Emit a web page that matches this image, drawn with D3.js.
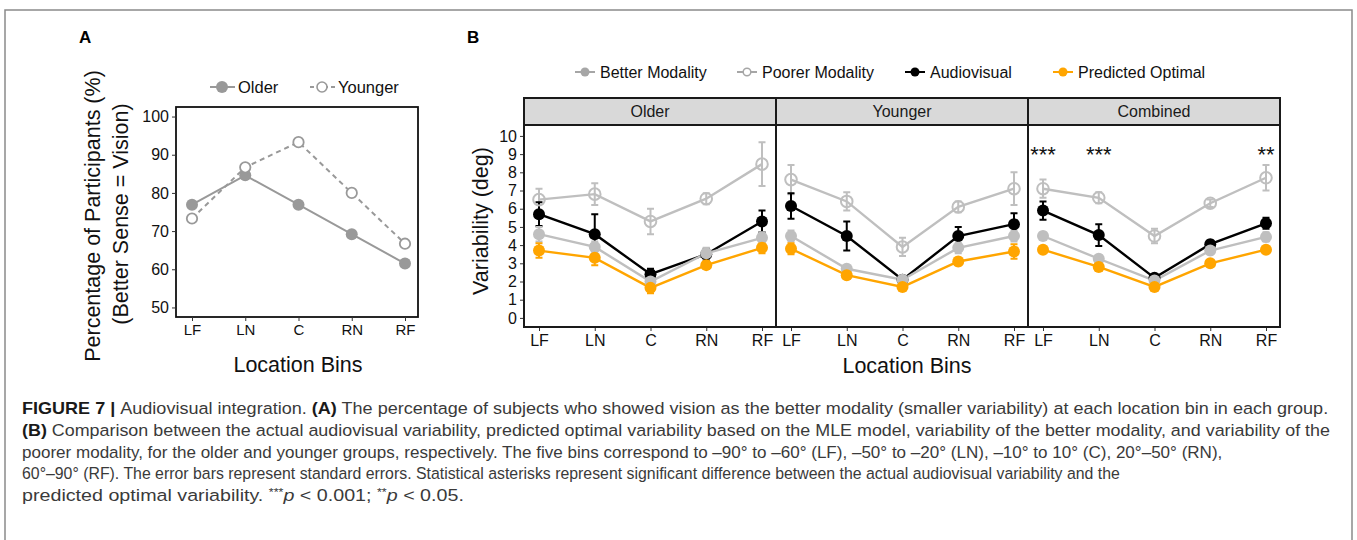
<!DOCTYPE html>
<html>
<head>
<meta charset="utf-8">
<script src="https://cdn.jsdelivr.net/npm/d3@7"></script>
<style>
  body { margin: 0; background: #fff; }
  svg { display: block; font-family: "Liberation Sans", Arial, sans-serif; }
</style>
</head>
<body>
<div id="chart"></div>
<script>
// ---- data ----
const bins = ["LF", "LN", "C", "RN", "RF"];

// panel A: % of participants with vision as better sense
const pctOlder = [76.9, 84.6, 76.9, 69.2, 61.5];
const pctYounger = [73.3, 86.7, 93.3, 80.0, 66.7];
const pctTicks = [50, 60, 70, 80, 90, 100];

// panel B: variability (deg), one row per facet
const facets = ["Older", "Younger", "Combined"];
const seriesNames = ["Better Modality", "Poorer Modality", "Audiovisual", "Predicted Optimal"];
const betterMean = [[4.6, 3.9, 2.0, 3.55, 4.4], [4.5, 2.7, 2.1, 3.85, 4.5], [4.5, 3.25, 2.05, 3.7, 4.45]];
const betterSE   = [[0.4, 0.3, 0.2, 0.3, 0.3], [0.3, 0.2, 0.2, 0.3, 0.3], [0.2, 0.2, 0.1, 0.2, 0.25]];
const poorerMean = [[6.5, 6.8, 5.3, 6.55, 8.45], [7.6, 6.4, 3.9, 6.1, 7.1], [7.1, 6.6, 4.5, 6.3, 7.7]];
const poorerSE   = [[0.6, 0.6, 0.7, 0.3, 1.2], [0.8, 0.5, 0.5, 0.3, 0.9], [0.5, 0.3, 0.4, 0.2, 0.7]];
const avMean     = [[5.7, 4.6, 2.4, 3.5, 5.3], [6.15, 4.5, 2.1, 4.5, 5.15], [5.9, 4.55, 2.2, 4.05, 5.2]];
const avSE       = [[0.65, 1.1, 0.3, 0.3, 0.6], [0.7, 0.8, 0.2, 0.5, 0.6], [0.5, 0.6, 0.15, 0.2, 0.3]];
const predMean   = [[3.7, 3.3, 1.65, 2.9, 3.85], [3.8, 2.35, 1.7, 3.1, 3.65], [3.75, 2.8, 1.7, 3.0, 3.75]];
const predSE     = [[0.4, 0.4, 0.3, 0.2, 0.3], [0.3, 0.2, 0.2, 0.2, 0.4], [0.15, 0.2, 0.15, 0.15, 0.15]];
const varTicks = [0, 1, 2, 3, 4, 5, 6, 7, 8, 9, 10];
const sigMarks = ["***", "***", "", "", "**"]; // combined facet only
const sigLevel = 9.3;

// caption lines (segments: [text, style])
const captionLines = [
  [["FIGURE 7 | ", "b"], ["Audiovisual integration. ", ""], ["(A)", "b"], [" The percentage of subjects who showed vision as the better modality (smaller variability) at each location bin in each group.", ""]],
  [["(B)", "b"], [" Comparison between the actual audiovisual variability, predicted optimal variability based on the MLE model, variability of the better modality, and variability of the", ""]],
  [["poorer modality, for the older and younger groups, respectively. The five bins correspond to \u201390\u00b0 to \u201360\u00b0 (LF), \u201350\u00b0 to \u201320\u00b0 (LN), \u201310\u00b0 to 10\u00b0 (C), 20\u00b0\u201350\u00b0 (RN),", ""]],
  [["60\u00b0\u201390\u00b0 (RF). The error bars represent standard errors. Statistical asterisks represent significant difference between the actual audiovisual variability and the", ""]],
  [["predicted optimal variability. ", ""], ["***", "sup"], ["p", "i"], [" < 0.001; ", ""], ["**", "sup"], ["p", "i"], [" < 0.05.", ""]]
];
const captionWidths = [1307, 1309, 1201, 1099, 442];

// ---- setup ----
const width = 1357, height = 540;
const svg = d3.select("#chart").append("svg")
    .attr("width", width)
    .attr("height", height);

// outer figure frame
svg.append("rect")
    .attr("x", 5).attr("y", 10)
    .attr("width", 1347).attr("height", 560)
    .attr("fill", "none")
    .attr("stroke", "#8a8a8a")
    .attr("stroke-width", 1.5);

svg.append("text").attr("x", 79).attr("y", 43)
    .attr("font-size", 17).attr("font-weight", "bold").text("A");
svg.append("text").attr("x", 467).attr("y", 43)
    .attr("font-size", 17).attr("font-weight", "bold").text("B");

// ================= Panel A =================
const xA = d3.scalePoint().domain(bins).range([192, 405]);
const yA = d3.scaleLinear().domain([47.5, 102.5]).range([317, 107]);
const greyA = "#999999";

const gA = svg.append("g");
gA.append("rect")
    .attr("x", 176).attr("y", 107)
    .attr("width", 242).attr("height", 210)
    .attr("fill", "none").attr("stroke", "#111").attr("stroke-width", 1.8);

// y axis
const yAxisA = gA.append("g").attr("transform", "translate(176,0)")
    .call(d3.axisLeft(yA).tickValues(pctTicks).tickSize(4).tickPadding(3));
yAxisA.select(".domain").remove();
yAxisA.selectAll("line").attr("stroke", "#333");
yAxisA.selectAll("text").attr("font-size", 16).attr("fill", "#111")
    .attr("font-family", "Liberation Sans, Arial, sans-serif");

// x axis
const xAxisA = gA.append("g").attr("transform", "translate(0,317)")
    .call(d3.axisBottom(xA).tickSize(4).tickPadding(3));
xAxisA.select(".domain").remove();
xAxisA.selectAll("line").attr("stroke", "#333");
xAxisA.selectAll("text").attr("font-size", 15).attr("fill", "#111")
    .attr("font-family", "Liberation Sans, Arial, sans-serif");

const lineA = d3.line().x((d, i) => xA(bins[i])).y(d => yA(d));
gA.append("path").datum(pctYounger)
    .attr("d", lineA).attr("fill", "none")
    .attr("stroke", greyA).attr("stroke-width", 2).attr("stroke-dasharray", "5,4");
gA.append("path").datum(pctOlder)
    .attr("d", lineA).attr("fill", "none")
    .attr("stroke", greyA).attr("stroke-width", 2);
gA.selectAll(".pt-old").data(pctOlder).join("circle")
    .attr("cx", (d, i) => xA(bins[i])).attr("cy", d => yA(d))
    .attr("r", 6).attr("fill", greyA);
gA.selectAll(".pt-young").data(pctYounger).join("circle")
    .attr("cx", (d, i) => xA(bins[i])).attr("cy", d => yA(d))
    .attr("r", 5.2).attr("fill", "#fff").attr("stroke", greyA).attr("stroke-width", 1.8);

// legend A
const legA = gA.append("g").attr("transform", "translate(0,87)");
legA.append("line").attr("x1", 210).attr("x2", 235).attr("stroke", greyA).attr("stroke-width", 2);
legA.append("circle").attr("cx", 222).attr("r", 6).attr("fill", greyA);
legA.append("text").attr("x", 238).attr("y", 6).attr("font-size", 16.5).attr("fill", "#111").text("Older");
legA.append("line").attr("x1", 310).attr("x2", 335).attr("stroke", greyA)
    .attr("stroke-width", 1.8).attr("stroke-dasharray", "4,3");
legA.append("circle").attr("cx", 322).attr("r", 5).attr("fill", "#fff")
    .attr("stroke", greyA).attr("stroke-width", 1.6);
legA.append("text").attr("x", 338).attr("y", 6).attr("font-size", 16.5).attr("fill", "#111").text("Younger");

// axis titles A
gA.append("text").attr("transform", "translate(100,216) rotate(-90)")
    .attr("text-anchor", "middle").attr("font-size", 21.5).attr("fill", "#111")
    .text("Percentage of Participants (%)");
gA.append("text").attr("transform", "translate(128,214) rotate(-90)")
    .attr("text-anchor", "middle").attr("font-size", 21.5).attr("fill", "#111")
    .text("(Better Sense = Vision)");
gA.append("text").attr("x", 298).attr("y", 372)
    .attr("text-anchor", "middle").attr("font-size", 21.5).attr("fill", "#111")
    .text("Location Bins");

// ================= Panel B =================
const facetLeft = 524, facetW = 252;
const stripTop = 98, panelTop = 125, panelBottom = 327;
const yB = d3.scaleLinear().domain([-0.5, 10.6]).range([panelBottom, panelTop]);

const series = [
  { name: "Poorer Modality", mean: poorerMean, se: poorerSE, color: "#bfbfbf", open: true },
  { name: "Audiovisual", mean: avMean, se: avSE, color: "#000000", open: false },
  { name: "Better Modality", mean: betterMean, se: betterSE, color: "#bfbfbf", open: false },
  { name: "Predicted Optimal", mean: predMean, se: predSE, color: "#ffa500", open: false }
];

const gB = svg.append("g");

facets.forEach((facet, fi) => {
  const left = facetLeft + fi * facetW;
  const xB = d3.scalePoint().domain(bins).range([left + 15, left + 238]);
  const g = gB.append("g");

  // strip
  g.append("rect")
      .attr("x", left).attr("y", stripTop)
      .attr("width", facetW).attr("height", panelTop - stripTop)
      .attr("fill", "#d9d9d9").attr("stroke", "#1a1a1a").attr("stroke-width", 2);
  g.append("text")
      .attr("x", left + facetW / 2).attr("y", 117)
      .attr("text-anchor", "middle").attr("font-size", 16).attr("fill", "#1a1a1a")
      .text(facet);

  // x axis
  const xAx = g.append("g").attr("transform", `translate(0,${panelBottom})`)
      .call(d3.axisBottom(xB).tickSize(4).tickPadding(4));
  xAx.select(".domain").remove();
  xAx.selectAll("line").attr("stroke", "#333");
  xAx.selectAll("text").attr("font-size", 16).attr("fill", "#111")
      .attr("font-family", "Liberation Sans, Arial, sans-serif");

  if (fi === 0) {
    const yAx = g.append("g").attr("transform", `translate(${left},0)`)
        .call(d3.axisLeft(yB).tickValues(varTicks).tickSize(4).tickPadding(3));
    yAx.select(".domain").remove();
    yAx.selectAll("line").attr("stroke", "#333");
    yAx.selectAll("text").attr("font-size", 16).attr("fill", "#111")
        .attr("font-family", "Liberation Sans, Arial, sans-serif");
  }

  const line = d3.line().x((d, i) => xB(bins[i])).y(d => yB(d));

  // error bars
  series.forEach(s => {
    const pts = s.mean[fi].map((m, i) => ({ x: xB(bins[i]), lo: yB(m - s.se[fi][i]), hi: yB(m + s.se[fi][i]) }));
    const eb = g.append("g").attr("stroke", s.color).attr("stroke-width", 2).attr("fill", "none");
    eb.selectAll("path").data(pts).join("path")
        .attr("d", d => `M${d.x - 3.5},${d.hi}H${d.x + 3.5}M${d.x},${d.hi}V${d.lo}M${d.x - 3.5},${d.lo}H${d.x + 3.5}`);
  });
  // lines
  series.forEach(s => {
    g.append("path").datum(s.mean[fi])
        .attr("d", line).attr("fill", "none")
        .attr("stroke", s.color).attr("stroke-width", 2.4);
  });
  // points
  series.forEach(s => {
    g.append("g").selectAll("circle").data(s.mean[fi]).join("circle")
        .attr("cx", (d, i) => xB(bins[i])).attr("cy", d => yB(d))
        .attr("r", s.open ? 5.8 : 6)
        .attr("fill", s.open ? "none" : s.color)
        .attr("stroke", s.open ? s.color : "none")
        .attr("stroke-width", 2);
  });

  if (facet === "Combined") {
    g.selectAll(".sig").data(sigMarks).join("text")
        .attr("x", (d, i) => xB(bins[i]))
        .attr("y", yB(sigLevel) + 13)
        .attr("text-anchor", "middle").attr("font-size", 22).attr("fill", "#111")
        .text(d => d);
  }

  // panel border
  g.append("rect")
      .attr("x", left).attr("y", panelTop)
      .attr("width", facetW).attr("height", panelBottom - panelTop)
      .attr("fill", "none").attr("stroke", "#1a1a1a").attr("stroke-width", 2);
});

// axis titles B
gB.append("text").attr("transform", "translate(488,221) rotate(-90)")
    .attr("text-anchor", "middle").attr("font-size", 21.5).attr("fill", "#111")
    .text("Variability (deg)");
gB.append("text").attr("x", 907).attr("y", 373)
    .attr("text-anchor", "middle").attr("font-size", 21.5).attr("fill", "#111")
    .text("Location Bins");

// legend B
const legendPos = [585, 747, 915, 1063];
const legendStyle = {
  "Better Modality": { color: "#a6a6a6", open: false },
  "Poorer Modality": { color: "#a6a6a6", open: true },
  "Audiovisual": { color: "#000", open: false },
  "Predicted Optimal": { color: "#ffa500", open: false }
};
const legB = gB.append("g").attr("transform", "translate(0,72)");
seriesNames.forEach((name, i) => {
  const cx = legendPos[i], st = legendStyle[name];
  legB.append("line").attr("x1", cx - 10).attr("x2", cx + 10)
      .attr("stroke", st.color).attr("stroke-width", 2);
  legB.append("circle").attr("cx", cx).attr("r", st.open ? 3.8 : 4.5)
      .attr("fill", st.open ? "#fff" : st.color)
      .attr("stroke", st.open ? st.color : "none").attr("stroke-width", 1.5);
  legB.append("text").attr("x", cx + 15).attr("y", 6)
      .attr("font-size", 16).attr("fill", "#111").text(name);
});

// ================= Caption =================
// each line fitted horizontally to the width it has in the figure
const cap = svg.append("g")
    .attr("font-family", "'Liberation Sans', Arial, sans-serif")
    .attr("font-size", 16.5).attr("fill", "#3a3a3a");
captionLines.forEach((segs, li) => {
  const y = 414 + li * 21.8;
  const t = cap.append("text").attr("x", 0).attr("y", 0);
  segs.forEach(([txt, style]) => {
    const ts = t.append("tspan").text(txt);
    if (style === "b") ts.attr("font-weight", 700).attr("fill", "#1a1a1a");
    if (style === "i") ts.attr("font-style", "italic");
    if (style === "sup") ts.attr("font-size", 10.5).attr("baseline-shift", "super");
  });
  const k = captionWidths[li] / t.node().getComputedTextLength();
  t.attr("transform", `translate(22,${y}) scale(${k},1)`);
});
</script>
</body>
</html>
